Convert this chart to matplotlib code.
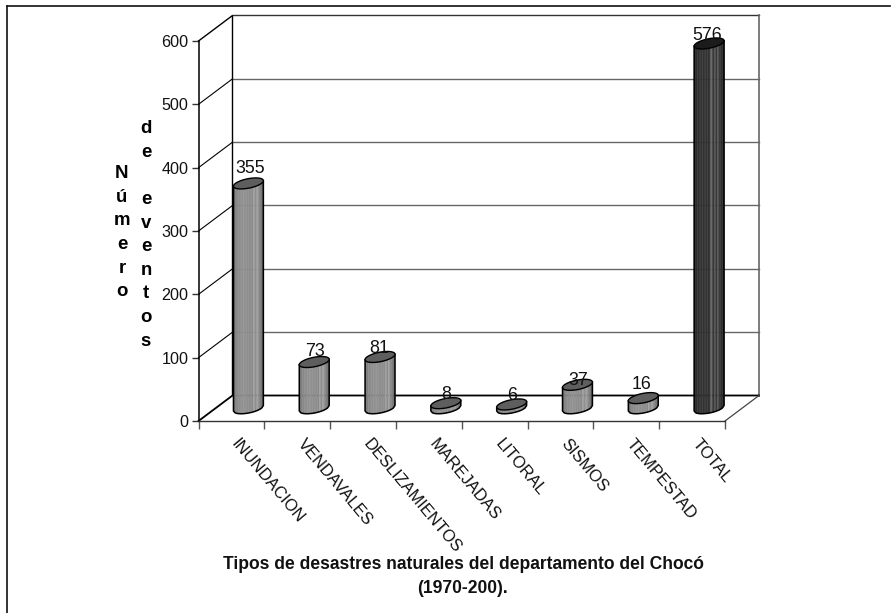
import numpy as np
import matplotlib
matplotlib.use('Agg')
import matplotlib.pyplot as plt

plt.rcParams['font.family'] = ['Liberation Sans', 'DejaVu Sans']

# ------------------------------------------------------- #
# Datos

categorias = ['INUNDACION', 'VENDAVALES', 'DESLIZAMIENTOS', 'MAREJADAS',
              'LITORAL', 'SISMOS', 'TEMPESTAD', 'TOTAL']
eventos = [355, 73, 81, 8, 6, 37, 16, 576]
yticks = [0, 100, 200, 300, 400, 500, 600]

titulo = 'Tipos de desastres naturales del departamento del Chocó\n(1970-200).'

# ------------------------------------------------------- #
# Estilo

# ajuste a mano de cada etiqueta (px en x, px en y sobre la tapa)
ajuste_etq = [(2, 10), (1, 5.7), (-1, 4), (0.7, 4.4), (0, 4.4), (0.3, 0), (-1.3, 9), (-2.3, 3.7)]

gris = ['#707070', '#808080', '#888888', '#8c8c8c', '#8e8e8e', '#909090', '#929292',
        '#909090', '#8e8e8e', '#8c8c8c', '#8e8e8e', '#8a8a8a', '#a0a0a0', '#8c8c8c',
        '#a0a0a0', '#8a8a8a', '#7e7e7e', '#686868']
oscuro = ['#242424', '#2c2c2c', '#303030', '#323232', '#333333', '#333333', '#333333',
          '#333333', '#323232', '#303030', '#6a6a6a', '#333333', '#555555', '#383838',
          '#555555', '#333333', '#2e2e2e', '#262626']

fig = plt.figure(figsize=(8.91, 6.13), dpi=100)
ax = fig.add_axes([198.5 / 891, 1 - 421 / 613, (725 - 198.5) / 891, 380 / 613])
ax.patch.set_alpha(0)
ax.set_xlim(0, 8)
ax.set_ylim(0, 600)

px_x = 8 / (725 - 198.5)
px_y = 600 / 380
fondo_x = 34 * px_x
fondo_y = 25.5 * px_y

# marco
fig.add_artist(plt.Line2D([7 / 891, 7 / 891], [0, 1 - 6 / 613], color='#111111', lw=1.2))
fig.add_artist(plt.Line2D([7 / 891, 890 / 891], [1 - 6 / 613, 1 - 6 / 613], color='#111111', lw=1.2))

# paredes y rejilla
for v in yticks[1:-1]:
    ax.plot([0, fondo_x], [v, v + fondo_y], color='black', lw=0.8, clip_on=False, zorder=1)
    ax.plot([fondo_x, 8 + fondo_x], [v + fondo_y, v + fondo_y], color='#666666', lw=1.0, clip_on=False, zorder=1)
ax.plot([0, fondo_x, fondo_x], [600, 600 + fondo_y, fondo_y], color='black', lw=1.0, clip_on=False, zorder=1)
ax.plot([fondo_x, 8 + fondo_x], [600 + fondo_y, 600 + fondo_y], color='#333333', lw=1.0, clip_on=False, zorder=1)
ax.plot([8 + fondo_x, 8 + fondo_x], [600 + fondo_y, fondo_y], color='#666666', lw=1.2, clip_on=False, zorder=1)
ax.plot([0, fondo_x, 8 + fondo_x], [0, fondo_y, fondo_y], color='black', lw=1.3, clip_on=False, zorder=1)
ax.plot([8, 8 + fondo_x], [0, fondo_y], color='#444444', lw=0.9, clip_on=False, zorder=1)

# ------------------------------------------------------- #
# Cilindros

a, b, c = 13.0, 7.4, 5.5
t0 = np.arctan2(b, a)


def borde(t):
    return (a * np.cos(t) + b * np.sin(t)) * px_x, c * np.sin(t) * px_y


for i, v in enumerate(eventos):
    cx = i + 0.5 + fondo_x / 2
    base = fondo_y / 2
    tope = base + v
    colores = oscuro if categorias[i] == 'TOTAL' else gris

    # cuerpo, por franjas
    f = np.linspace(-1, 1, len(colores) + 1)
    t = t0 + 2 * np.pi - np.arccos(f)
    ex, ey = borde(t)
    for j in range(len(colores)):
        ax.fill([cx + ex[j], cx + ex[j + 1], cx + ex[j + 1], cx + ex[j]],
                [base + ey[j], base + ey[j + 1], tope + ey[j + 1], tope + ey[j]],
                color=colores[j], lw=0.3, clip_on=False, zorder=3 + i)

    # contorno y tapa
    ax.plot(np.r_[cx + ex[0], cx + ex, cx + ex[-1]],
            np.r_[tope + ey[0], base + ey, tope + ey[-1]],
            color='black', lw=1.1, clip_on=False, zorder=3 + i)
    tt = np.linspace(0, 2 * np.pi, 80)
    tx, ty = borde(tt)
    ax.fill(cx + tx, tope + ty, facecolor='#1c1c1c' if categorias[i] == 'TOTAL' else '#5e5e5e',
            edgecolor='black', lw=1.0, clip_on=False, zorder=3 + i)

    dx, dy = ajuste_etq[i]
    ax.text(cx + dx * px_x, tope + dy * px_y, str(v), ha='center', va='baseline',
            fontsize=12.8, color='#111111', clip_on=False, zorder=20)

# ------------------------------------------------------- #
# Ejes

for lado in ['top', 'right']:
    ax.spines[lado].set_visible(False)
ax.spines['left'].set_color('black')
ax.spines['left'].set_linewidth(1.1)
ax.spines['bottom'].set_color('#333333')
ax.spines['bottom'].set_linewidth(1.0)

ax.set_yticks(yticks)
ax.tick_params(axis='y', length=5, width=1.0, color='#333333', pad=2.2, labelsize=11.6, labelcolor='#111111')
ax.set_xticks(np.arange(0, 9))
ax.set_xticklabels([])
ax.tick_params(axis='x', which='major', length=5.8, width=1.0, color='#555555')
# las etiquetas arrancan un poco a la derecha del centro
ax.set_xticks(np.arange(8) + 0.5 + 3 * px_x, minor=True)
ax.set_xticklabels(categorias, minor=True, rotation=-50, ha='left', va='center',
                   rotation_mode='anchor', fontsize=11.9, color='#111111')
ax.tick_params(axis='x', which='minor', length=0, pad=14.6)

# titulo del eje en letras apiladas
fig.text(122 / 891, 1 - 165 / 613, 'N\nú\nm\ne\nr\no', ha='center', va='top',
         fontsize=13.4, fontweight='bold', linespacing=1.51)
fig.text(146 / 891, 1 - 120 / 613, 'd\ne\n\ne\nv\ne\nn\nt\no\ns', ha='center', va='top',
         fontsize=13.4, fontweight='bold', linespacing=1.51)

fig.text(463 / 891, 1 - 576.5 / 613, titulo, ha='center', va='center', fontsize=12.65,
         fontweight='bold', linespacing=1.6, color='#111111')

fig.savefig('out.png', dpi=100)
